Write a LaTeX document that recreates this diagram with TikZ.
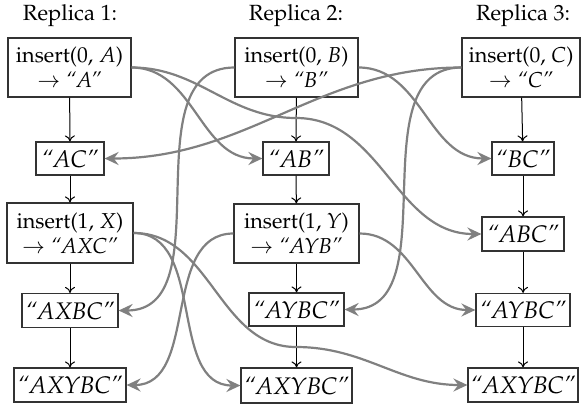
\documentclass[tikz,border=0pt]{standalone}
\usepackage[T1]{fontenc}
\usepackage{mathpazo}
\usetikzlibrary{arrows.meta}
\begin{document}
\begin{tikzpicture}[x=0.5pt,y=-0.5pt,
  box/.style={draw=black!80, line width=0.6pt, inner sep=0pt, align=center},
  ins/.style={box, font=\fontsize{10.8}{12.6}\selectfont},
  str/.style={box, font=\fontsize{12}{13}\selectfont\itshape},
  hdr/.style={font=\fontsize{11}{12}\selectfont},
  seq/.style={-{To[length=3pt,width=5pt]}, line width=0.5pt, black},
  msg/.style={-{Stealth[length=7pt,width=6.5pt,inset=2.4pt]}, line width=1.1pt, black!50},
]
\useasboundingbox (0,0) rectangle (581,407);
% headers
\node[hdr] (h1) at (70,16) {Replica 1:};
\node[hdr] (h2) at (296,16) {Replica 2:};
\node[hdr] (h3) at (523,16) {Replica 3:};
% row 1
\node[ins, minimum width=61.5pt, minimum height=29.5pt] (A) at (69.5,67.5) {insert(0, $A$)\\ $\rightarrow$ \textit{``A''}};
\node[ins, minimum width=61.5pt, minimum height=29.5pt] (B) at (296.5,67.5) {insert(0, $B$)\\ $\rightarrow$ \textit{``B''}};
\node[ins, minimum width=59pt, minimum height=29.5pt] (C) at (521,67.5) {insert(0, $C$)\\ $\rightarrow$ \textit{``C''}};
% row 2
\node[str, minimum width=34pt, minimum height=16.5pt] (AC) at (70,158.5) {``AC''};
\node[str, minimum width=33pt, minimum height=16.5pt] (AB) at (296,158.5) {``AB''};
\node[str, minimum width=31pt, minimum height=16.5pt] (BC) at (523,158.5) {``BC''};
% row 3
\node[ins, minimum width=63pt, minimum height=30pt] (X) at (70,233) {insert(1, $X$)\\ $\rightarrow$ \textit{``AXC''}};
\node[ins, minimum width=62.5pt, minimum height=29.5pt] (Y) at (296.5,233.5) {insert(1, $Y$)\\ $\rightarrow$ \textit{``AYB''}};
\node[str, minimum width=41pt, minimum height=17pt] (ABC) at (523,234) {``ABC''};
% row 4
\node[str, minimum width=48pt, minimum height=17pt] (AXBC) at (70,310.5) {``AXBC''};
\node[str, minimum width=47.5pt, minimum height=16.5pt] (AYBC2) at (296.5,309.5) {``AYBC''};
\node[str, minimum width=47pt, minimum height=16.5pt] (AYBC3) at (523,310) {``AYBC''};
% row 5
\node[str, minimum width=56pt, minimum height=17pt] (AXYBC1) at (70,385) {``AXYBC''};
\node[str, minimum width=55.5pt, minimum height=17.5pt] (AXYBC2) at (296.5,385.5) {``AXYBC''};
\node[str, minimum width=55pt, minimum height=17pt] (AXYBC3) at (523,385) {``AXYBC''};
% waypoints
\coordinate (w1) at (296,118);
\coordinate (w2) at (296,347);
% sequence arrows
\draw[seq] (A) -- (AC);
\draw[seq] (AC) -- (X);
\draw[seq] (X) -- (AXBC);
\draw[seq] (AXBC) -- (AXYBC1);
\draw[seq] (B) -- (AB);
\draw[seq] (AB) -- (Y);
\draw[seq] (Y) -- (AYBC2);
\draw[seq] (AYBC2) -- (AXYBC2);
\draw[seq] (C) -- (BC);
\draw[seq] (BC) -- (ABC);
\draw[seq] (ABC) -- (AYBC3);
\draw[seq] (AYBC3) -- (AXYBC3);
% messages
\draw[msg] (A.east) to[out=0,in=180] (AB.west);
\draw[msg] (A.east) to[out=0,in=180] (w1) to[out=0,in=180] (ABC.west);
\draw[msg] (B.east) to[out=0,in=180] (BC.west);
\draw[msg] (B.west) to[out=180,in=0] (AXBC.east);
\draw[msg] (C.west) to[out=180,in=0] (AC.east);
\draw[msg] (C.west) to[out=180,in=0] (AYBC2.east);
\draw[msg] (X.east) to[out=0,in=180] (AXYBC2.west);
\draw[msg] (X.east) to[out=0,in=180] (w2) to[out=0,in=180] (AXYBC3.west);
\draw[msg] (Y.west) to[out=180,in=0] (AXYBC1.east);
\draw[msg] (Y.east) to[out=0,in=180] (AYBC3.west);
\end{tikzpicture}
\end{document}
